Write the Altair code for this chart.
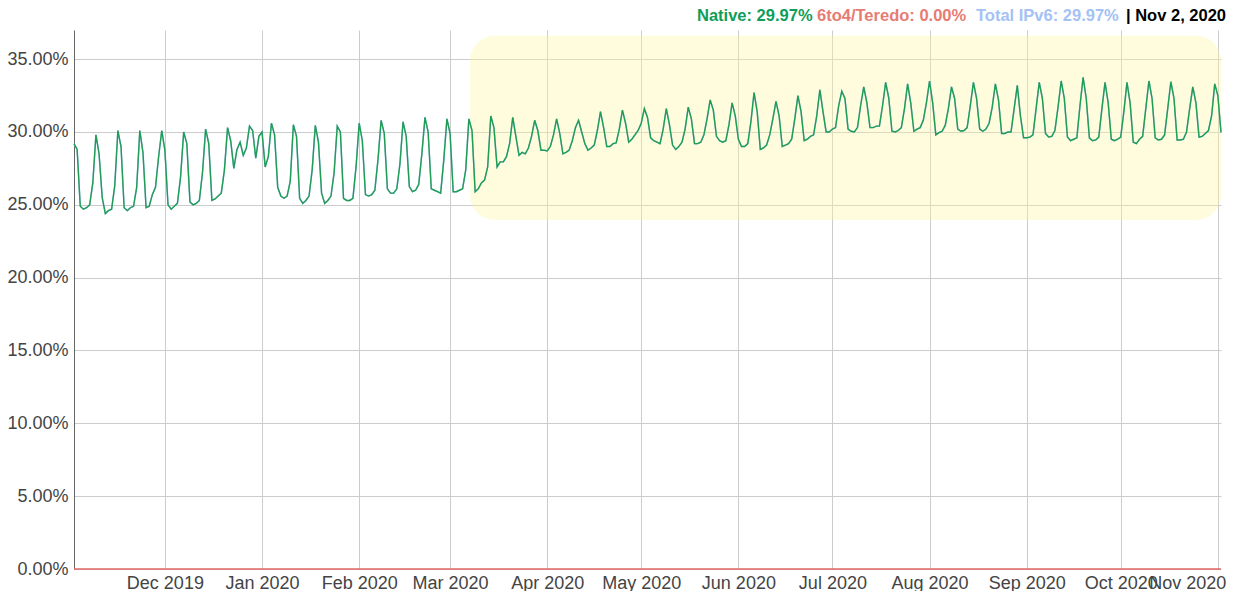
import altair as alt
import pandas as pd

# ---------------- data ----------------
start_date = "2019-11-02"   # first daily sample (Saturday)
native_pct = [
    29.2, 28.8, 24.9, 24.7, 24.8, 25.0, 26.5,
    29.8, 28.5, 25.5, 24.4, 24.6, 24.7, 26.3,
    30.1, 29.0, 24.8, 24.6, 24.8, 24.9, 26.2,
    30.1, 28.6, 24.8, 24.9, 25.7, 26.2, 28.3,
    30.1, 28.75, 25.0, 24.7, 24.9, 25.1, 26.9,
    30.0, 29.2, 25.2, 25.0, 25.1, 25.3, 27.2,
    30.2, 29.2, 25.3, 25.4, 25.6, 25.8, 27.4,
    30.3, 29.4, 27.5, 28.8, 29.3, 28.4, 28.9,
    30.4, 30.1, 28.2, 29.7, 30.0, 27.6, 28.3,
    30.6, 29.8, 26.2, 25.6, 25.45, 25.6, 26.6,
    30.5, 29.7, 25.45, 25.1, 25.3, 25.6, 27.4,
    30.45, 29.3, 25.8, 25.1, 25.3, 25.6, 27.2,
    30.4, 30.0, 25.45, 25.3, 25.3, 25.45, 27.6,
    30.6, 29.4, 25.7, 25.6, 25.7, 26.0, 28.1,
    30.8, 29.9, 26.1, 25.8, 25.8, 26.1, 27.8,
    30.7, 29.7, 26.25, 25.9, 26.0, 26.4, 28.5,
    31.0, 30.0, 26.1, 26.0, 25.9, 25.8, 28.1,
    30.9, 29.9, 25.9, 25.9, 26.0, 26.1, 27.4,
    30.9, 30.1, 25.9, 26.1, 26.5, 26.7, 27.6,
    31.1, 30.3, 27.6, 27.95, 27.95, 28.3, 29.2,
    31.0, 29.7, 28.4, 28.6, 28.5, 28.9, 29.7,
    30.8, 30.1, 28.75, 28.75, 28.7, 29.0, 29.8,
    30.9, 29.9, 28.5, 28.6, 28.75, 29.4, 30.3,
    30.8, 30.0, 29.2, 28.75, 28.9, 29.1, 30.1,
    31.4, 30.3, 29.0, 29.0, 29.2, 29.25, 30.2,
    31.5, 30.6, 29.3, 29.5, 29.8, 30.1, 30.6,
    31.6, 31.0, 29.6, 29.4, 29.3, 29.2, 30.2,
    31.6, 30.5, 29.1, 28.8, 29.0, 29.3, 30.2,
    31.7, 30.9, 29.2, 29.2, 29.3, 29.8, 30.9,
    32.2, 31.5, 29.7, 29.4, 29.3, 29.4, 30.5,
    32.0, 31.1, 29.5, 29.0, 29.0, 29.2, 30.7,
    32.7, 31.4, 28.8, 28.9, 29.1, 29.8, 30.9,
    32.1, 31.1, 29.0, 29.1, 29.2, 29.5, 30.9,
    32.5, 31.4, 29.4, 29.5, 29.7, 29.8, 31.1,
    32.9, 31.4, 30.0, 30.0, 30.2, 30.3, 31.8,
    32.8, 32.3, 30.2, 30.05, 30.0, 30.3, 31.8,
    33.1, 32.0, 30.3, 30.3, 30.4, 30.4, 31.8,
    33.4, 32.3, 30.05, 30.0, 30.1, 30.3, 31.6,
    33.3, 32.0, 30.05, 30.2, 30.3, 30.8, 32.0,
    33.5, 32.0, 29.8, 29.95, 30.05, 30.45, 31.6,
    33.1, 32.3, 30.2, 30.05, 30.1, 30.3, 31.8,
    33.4, 32.3, 30.2, 30.05, 30.2, 30.6, 31.7,
    33.3, 32.2, 29.9, 29.9, 30.0, 30.0, 31.6,
    33.2, 31.1, 29.6, 29.6, 29.65, 29.8, 31.6,
    33.4, 32.3, 29.9, 29.65, 29.7, 30.1, 31.7,
    33.5, 32.3, 29.65, 29.4, 29.5, 29.6, 31.8,
    33.75, 32.3, 29.6, 29.4, 29.45, 29.65, 31.6,
    33.4, 32.0, 29.5, 29.4, 29.5, 29.65, 31.4,
    33.4, 32.0, 29.3, 29.2, 29.5, 29.7, 31.6,
    33.5, 32.3, 29.6, 29.45, 29.5, 29.8, 31.6,
    33.45, 32.3, 29.45, 29.45, 29.5, 30.0, 31.6,
    33.1, 32.0, 29.65, 29.7, 29.9, 30.1, 31.1,
    33.3, 32.5, 29.97,
]
teredo_pct = [0.00] * len(native_pct)   # 6to4/Teredo reads 0.00% throughout

y_ticks = [0, 5, 10, 15, 20, 25, 30, 35]
highlight_start = ["2020-03-07T10:00:00"]
highlight_end = ["2020-11-02T00:00:00"]
highlight_low = [23.95]
highlight_high = [36.6]

# ---------------- tables ----------------
dates = pd.date_range(start_date, periods=len(native_pct), freq="D")
df = pd.DataFrame({
    "date": dates.strftime("%Y-%m-%dT00:00:00"),
    "native": native_pct,
    "teredo": teredo_pct,
})
df["total"] = df["native"] + df["teredo"]

hl = pd.DataFrame({"start": highlight_start, "end": highlight_end,
                   "low": highlight_low, "high": highlight_high})

last = df.iloc[-1]
last_date = dates[-1]
hdr_native = f"Native: {last['native']:.2f}%"
hdr_teredo = f"6to4/Teredo: {last['teredo']:.2f}%"
hdr_total = f"Total IPv6: {last['total']:.2f}%"
hdr_date = f"| {last_date.strftime('%b')} {last_date.day}, {last_date.year}"

FONT = "Liberation Sans, Arial, sans-serif"

x_scale = alt.Scale(domain=[alt.DateTime(year=2019, month=11, date=2),
                            alt.DateTime(year=2020, month=11, date=2)])
y_scale = alt.Scale(domain=[0, 37], nice=False)

x_axis = alt.Axis(
    title=None, format="%b %Y", tickCount={"interval": "month", "step": 1},
    grid=True, ticks=False, domain=False, labelOverlap=False, labelBound=False,
    labelPadding=5, labelFlush=False,
    labelAlign={"expr": "datum.value >= datetime(2020, 9, 20) ? 'right' : 'center'"},
    labelOffset={"expr": "datum.value >= datetime(2020, 9, 20) ? 8 : 0"},
)
y_axis = alt.Axis(
    title=None, values=y_ticks, grid=True, ticks=False, domain=True,
    domainColor="#666666", labelPadding=6,
    labelExpr="format(datum.value, '.2f') + '%'",
)


def xenc(field):
    return alt.X(f"{field}:T", scale=x_scale, axis=x_axis)


def yenc(field):
    return alt.Y(f"{field}:Q", scale=y_scale, axis=y_axis)


rect = alt.Chart(hl).mark_rect(cornerRadius=25, color="#fbf59a", opacity=0.35).encode(
    x=xenc("start"), x2="end:T", y=yenc("low"), y2="high:Q"
)

base = alt.Chart(df)
total_line = base.mark_line(color="#a4c2f4", strokeWidth=1.5).encode(x=xenc("date"), y=yenc("total"))
teredo_line = base.mark_line(color="#e06666", strokeWidth=1.5).encode(x=xenc("date"), y=yenc("teredo"))
native_line = base.mark_line(color="#1f9d55", strokeWidth=1.4).encode(x=xenc("date"), y=yenc("native"))


def header(text, color, xpos):
    return alt.Chart(pd.DataFrame({"t": [text]})).mark_text(
        align="left", baseline="middle", font=FONT, fontSize=16.5,
        fontWeight="bold", color=color,
    ).encode(x=alt.value(xpos), y=alt.value(-14), text="t:N")


chart = alt.layer(
    rect, total_line, teredo_line, native_line,
    header(hdr_native, "#0f9d58", 623),
    header(hdr_teredo, "#e67c73", 743),
    header(hdr_total, "#a4c2f4", 902),
    header(hdr_date, "#000000", 1052),
).properties(
    width=1147, height=539,
    autosize=alt.AutoSizeParams(type="none"),
    padding={"left": 66, "top": 22, "right": 8, "bottom": 22},
).configure_view(stroke=None).configure_axis(
    labelFont=FONT, labelFontSize=18, labelColor="#444444",
    gridColor="#cccccc", gridWidth=1,
)

chart.save("out.html", embed_options={"renderer": "svg", "actions": False})
